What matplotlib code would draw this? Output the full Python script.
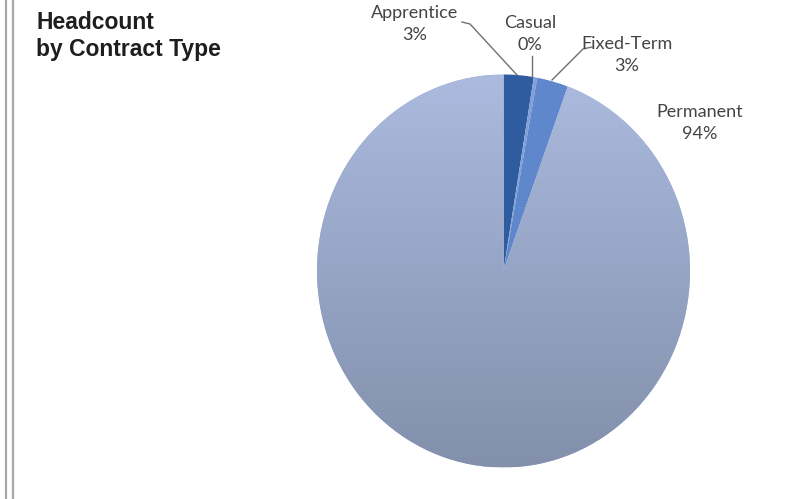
import numpy as np
import matplotlib.pyplot as plt
from matplotlib.lines import Line2D

# data
labels = ['Apprentice', 'Casual', 'Fixed-Term', 'Permanent']
values = [2.6, 0.3, 2.7, 94.4]
colors = ['#2f5c9e', '#7f9fd6', '#5f88cc', '#a3b2d6']

W, H = 787, 499
fig = plt.figure(figsize=(W / 100, H / 100), dpi=100)

# pie is drawn slightly taller than wide, like the original
cx, cy, rx, ry = 503.5, 271, 186.5, 196.5
ax = fig.add_axes([(cx - rx) / W, (H - cy - ry) / H, 2 * rx / W, 2 * ry / H])
wedges, _ = ax.pie(values, colors=colors, startangle=90, counterclock=False,
                   wedgeprops=dict(linewidth=0))
ax.set_aspect('auto')
ax.set_xlim(-1, 1)
ax.set_ylim(-1, 1)
ax.axis('off')

# vertical gradient on the big slice
grad = np.linspace(0, 1, 256).reshape(-1, 1)
top = np.array([0xab, 0xba, 0xde]) / 255
bot = np.array([0x82, 0x90, 0xac]) / 255
img = top + (bot - top) * grad[:, :, None]
im = ax.imshow(img, extent=(-1, 1, -1, 1), origin='upper', aspect='auto', zorder=3)
im.set_clip_path(wedges[3])

# overlay in pixel units for text and leaders
ov = fig.add_axes([0, 0, 1, 1], facecolor='none')
ov.set_xlim(0, W)
ov.set_ylim(H, 0)
ov.axis('off')

# double rule on the left
for x in (6, 13):
    ov.add_line(Line2D([x, x], [0, H], color='#a8a8a8', lw=1.6))

ov.text(36, 11, 'Headcount\nby Contract Type', fontsize=16.5, fontweight='bold',
        family='Liberation Sans', color='#1e1e1e', va='top', ha='left', linespacing=1.2)

lab_pos = [(415, 24), (530, 34), (627, 55), (700, 123)]
leaders = [
    [(462, 22), (470, 24), (517, 75)],
    [(532, 56), (532, 77)],
    [(592, 47), (583, 49), (552, 80)],
    None,
]
for name, v, (x, y), ld in zip(labels, values, lab_pos, leaders):
    ov.text(x, y, f'{name}\n{v:.0f}%', ha='center', va='center', fontsize=13,
            family='Lato', color='#444444', linespacing=1.45)
    if ld:
        xs, ys = zip(*ld)
        ov.add_line(Line2D(xs, ys, color='#707070', lw=1))

fig.savefig('out.png', dpi=100)
